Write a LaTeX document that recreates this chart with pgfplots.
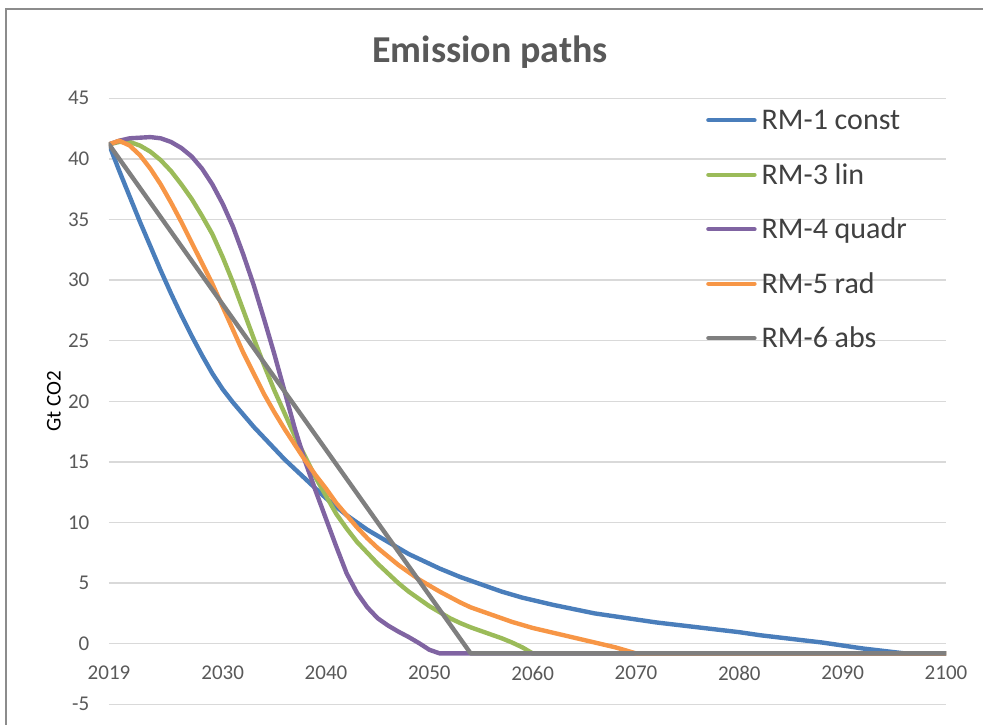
\documentclass[border=0pt]{standalone}
\usepackage{fontspec}
\setmainfont{Carlito}
\usepackage{pgfplots}
\pgfplotsset{compat=1.18}
\definecolor{cblue}{HTML}{4A7EBB}
\definecolor{cgreen}{HTML}{9BBB59}
\definecolor{cpurple}{HTML}{8064A2}
\definecolor{corange}{HTML}{F79646}
\definecolor{cgray}{HTML}{7F7F7F}
\definecolor{gridgray}{HTML}{D9D9D9}
\definecolor{ticktext}{HTML}{595959}
\definecolor{titlegray}{HTML}{595959}
\definecolor{legtext}{HTML}{404040}
\definecolor{framegray}{HTML}{8C8C8C}
\begin{document}
\begin{tikzpicture}
\useasboundingbox (-109pt,-19.7pt) rectangle (874pt,704.3pt);
\draw[color=framegray, line width=2pt] (-103pt,-30pt) -- (-103pt,695.3pt) -- (890pt,695.3pt);
\begin{axis}[
  at={(0pt,0pt)}, anchor=south west,
  scale only axis, width=837pt, height=606pt,
  xmin=2019, xmax=2100, ymin=-5, ymax=45,
  xtick={2019,2030,2040,2050,2060,2070,2080,2090,2100},
  xticklabels={2019,2030,2040,2050,2060,2070,2080,2090,2100},
  ytick={-5,0,5,10,15,20,25,30,35,40,45},
  yticklabels={-5,0,5,10,15,20,25,30,35,40,45},
  axis line style={draw=none},
  tick style={draw=none},
  major tick length=0pt,
  ymajorgrids, grid style={color=gridgray, line width=1.3pt},
  tick label style={font=\fontsize{21}{25}\selectfont, text=ticktext},
  xticklabel style={anchor=center, inner sep=0pt, yshift=31.3pt},
  yticklabel style={anchor=east, inner sep=0pt, xshift=-19.5pt},
  ylabel={Gt CO2},
  ylabel style={at={(axis description cs:-0.0657,0.5)}, anchor=center, font=\fontsize{21}{25}\selectfont, text=black},
  title={Emission paths},
  title style={at={(axis description cs:0.4552,1.0495)}, anchor=base, font=\fontsize{38}{44}\selectfont\bfseries, text=titlegray},
  legend cell align=left,
  legend style={at={(axis description cs:0.7133,0.9848)}, anchor=north west, draw=none, fill=none, inner sep=0pt, row sep=29.5pt, font=\fontsize{30}{36}\selectfont, text=legtext, nodes={inner xsep=5pt, inner ysep=0pt, text height=22pt, text depth=3pt}},
  legend image code/.code={\draw[#1] (0pt,0pt) -- (46pt,0pt);},
  every axis plot/.append style={line width=4.4pt, line join=round, line cap=round, mark=none},
]
\addplot[cblue] coordinates {
(2019,41.2) (2020,39.0) (2021,36.9) (2022,34.8) (2023,32.8) (2024,30.8) (2025,28.9) (2026,27.1) (2027,25.4) (2028,23.8) (2029,22.3) (2030,21.0) (2031,19.9) (2032,18.9) (2033,17.9) (2034,17.0) (2035,16.1) (2036,15.2) (2037,14.4) (2038,13.6) (2039,12.8) (2040,12.0) (2041,11.3) (2042,10.6) (2043,10.0) (2044,9.4) (2045,8.9) (2046,8.4) (2047,7.9) (2048,7.4) (2049,7.0) (2050,6.6) (2051,6.2) (2052,5.85) (2053,5.5) (2054,5.2) (2055,4.9) (2056,4.6) (2057,4.3) (2058,4.05) (2059,3.8) (2060,3.6) (2062,3.2) (2064,2.85) (2066,2.5) (2068,2.25) (2070,2.0) (2072,1.75) (2074,1.55) (2076,1.35) (2078,1.15) (2080,0.95) (2082,0.7) (2084,0.5) (2086,0.3) (2088,0.1) (2090,-0.15) (2092,-0.4) (2094,-0.6) (2096,-0.8) (2100,-0.8)
};
\addlegendentry{RM-1 const}
\addplot[cgreen] coordinates {
(2019,41.2) (2020,41.4) (2021,41.4) (2022,41.1) (2023,40.6) (2024,39.9) (2025,39.0) (2026,37.9) (2027,36.7) (2028,35.3) (2029,33.8) (2030,31.9) (2031,29.8) (2032,27.5) (2033,25.2) (2034,23.0) (2035,20.9) (2036,19.0) (2037,17.1) (2038,15.4) (2039,13.7) (2040,12.2) (2041,10.7) (2042,9.5) (2043,8.4) (2044,7.5) (2045,6.6) (2046,5.8) (2047,5.0) (2048,4.3) (2049,3.7) (2050,3.1) (2051,2.6) (2052,2.1) (2053,1.7) (2054,1.35) (2055,1.05) (2056,0.75) (2057,0.45) (2058,0.1) (2059,-0.3) (2060,-0.8) (2100,-0.8)
};
\addlegendentry{RM-3 lin}
\addplot[cpurple] coordinates {
(2019,41.2) (2020,41.5) (2021,41.7) (2022,41.75) (2023,41.8) (2024,41.7) (2025,41.4) (2026,40.9) (2027,40.2) (2028,39.2) (2029,37.9) (2030,36.3) (2031,34.4) (2032,32.1) (2033,29.6) (2034,26.8) (2035,23.9) (2036,20.8) (2037,17.7) (2038,15.0) (2039,12.6) (2040,10.3) (2041,8.0) (2042,5.8) (2043,4.2) (2044,3.0) (2045,2.1) (2046,1.5) (2047,1.0) (2048,0.55) (2049,0.05) (2050,-0.5) (2051,-0.8) (2100,-0.8)
};
\addlegendentry{RM-4 quadr}
\addplot[corange] coordinates {
(2019,41.2) (2020,41.5) (2021,41.1) (2022,40.3) (2023,39.2) (2024,37.9) (2025,36.4) (2026,34.8) (2027,33.1) (2028,31.4) (2029,29.7) (2030,27.8) (2031,25.9) (2032,24.0) (2033,22.3) (2034,20.6) (2035,19.1) (2036,17.7) (2037,16.4) (2038,15.1) (2039,13.9) (2040,12.8) (2041,11.6) (2042,10.6) (2043,9.6) (2044,8.7) (2045,7.9) (2046,7.2) (2047,6.5) (2048,5.9) (2049,5.3) (2050,4.8) (2051,4.3) (2052,3.85) (2053,3.4) (2054,3.0) (2055,2.7) (2056,2.4) (2057,2.1) (2058,1.8) (2059,1.55) (2060,1.3) (2061,1.1) (2062,0.9) (2063,0.7) (2064,0.5) (2065,0.3) (2066,0.1) (2067,-0.1) (2068,-0.3) (2069,-0.55) (2070,-0.8) (2100,-0.8)
};
\addlegendentry{RM-5 rad}
\addplot[cgray] coordinates {
(2019,41.2) (2054,-0.8) (2100,-0.8)
};
\addlegendentry{RM-6 abs}
\end{axis}
\end{tikzpicture}
\end{document}
